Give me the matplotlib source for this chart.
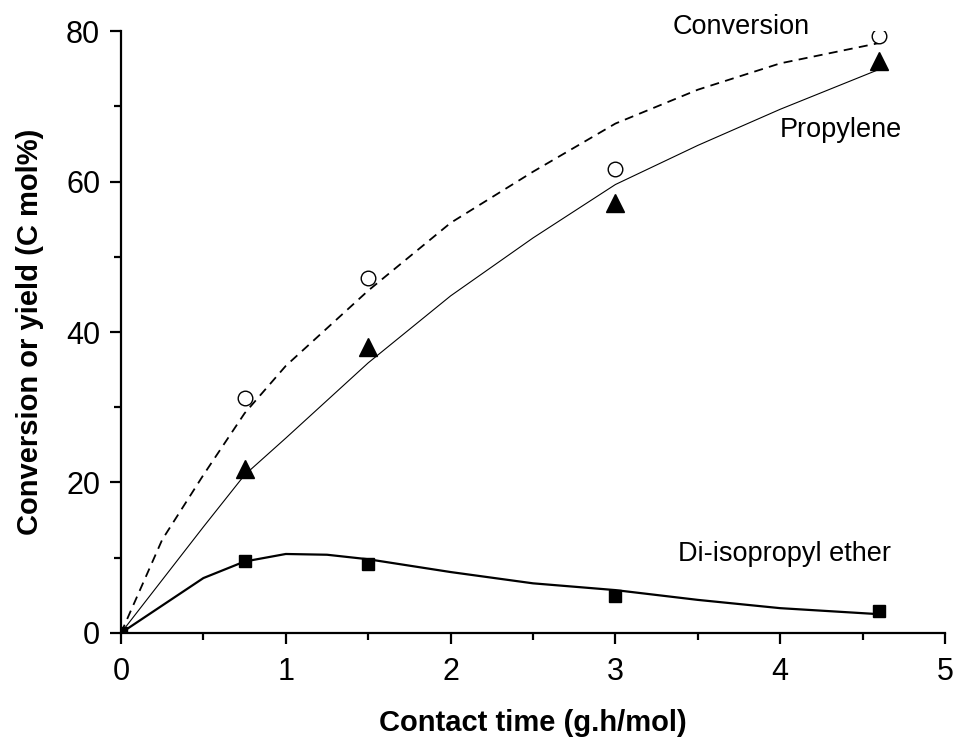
import matplotlib
matplotlib.use('Agg')
import matplotlib.pyplot as plt
from matplotlib.ticker import MultipleLocator

plt.rcParams['font.family'] = ['Liberation Sans', 'DejaVu Sans']

# measured points
t_meas = [0.75, 1.5, 3.0, 4.6]
conversion = [31.2, 47.2, 61.7, 79.3]
propylene = [21.8, 38.0, 57.2, 76.0]
t_dipe = [0, 0.75, 1.5, 3.0, 4.6]
dipe = [0, 9.6, 9.2, 4.9, 2.9]

# fitted curves
t_conv_fit = [0, 0.25, 0.5, 0.75, 1.0, 1.5, 2.0, 2.5, 3.0, 3.5, 4.0, 4.6]
conv_fit = [0, 12.4, 21.0, 29.2, 35.5, 45.5, 54.5, 61.3, 67.7, 72.2, 75.7, 78.4]
t_prop_fit = [0, 0.5, 0.75, 1.0, 1.5, 2.0, 2.5, 3.0, 3.5, 4.0, 4.6]
prop_fit = [0, 14.1, 21.0, 25.9, 35.9, 44.8, 52.5, 59.6, 64.8, 69.6, 74.9]
t_dipe_fit = [0, 0.5, 0.75, 1.0, 1.25, 1.5, 2.0, 2.5, 3.0, 3.5, 4.0, 4.6]
dipe_fit = [0, 7.3, 9.5, 10.5, 10.4, 9.8, 8.1, 6.6, 5.7, 4.4, 3.3, 2.5]

fig = plt.figure(figsize=(9.61, 7.40), dpi=100)
ax = fig.add_axes([0.1259, 0.1446, 0.8575, 0.8135])

ax.plot(t_conv_fit, conv_fit, color='black', lw=1.3, dashes=(5, 3.5))
ax.plot(t_prop_fit, prop_fit, color='black', lw=0.8)
ax.plot(t_dipe_fit, dipe_fit, color='black', lw=1.6)

ax.plot(t_meas, conversion, 'o', ms=10.5, mfc='white', mec='black', mew=1.0)
ax.plot(t_meas, propylene, '^', ms=13, color='black')
ax.plot(t_dipe, dipe, 's', ms=9, color='black')

ax.text(3.35, 79.6, 'Conversion', fontsize=19.5, ha='left', va='baseline')
ax.text(4.0, 65.9, 'Propylene', fontsize=19.5, ha='left', va='baseline')
ax.text(3.38, 9.6, 'Di-isopropyl ether', fontsize=19.5, ha='left', va='baseline')

ax.set_xlim(0, 5)
ax.set_ylim(0, 80)
ax.xaxis.set_major_locator(MultipleLocator(1))
ax.xaxis.set_minor_locator(MultipleLocator(0.5))
ax.yaxis.set_major_locator(MultipleLocator(20))
ax.yaxis.set_minor_locator(MultipleLocator(10))

for s in ['top', 'right']:
    ax.spines[s].set_visible(False)
for s in ['left', 'bottom']:
    ax.spines[s].set_linewidth(1.6)

ax.tick_params(which='major', direction='out', length=8, width=1.6, labelsize=22)
ax.tick_params(which='minor', direction='out', length=5, width=1.6)
ax.tick_params(axis='x', which='major', pad=9)
ax.tick_params(axis='y', which='major', pad=7)

ax.set_xlabel('Contact time (g.h/mol)', fontsize=21, fontweight='bold', labelpad=16)
ax.set_ylabel('Conversion or yield (C mol%)', fontsize=21, fontweight='bold', labelpad=16)

fig.savefig('out.png', dpi=100)
